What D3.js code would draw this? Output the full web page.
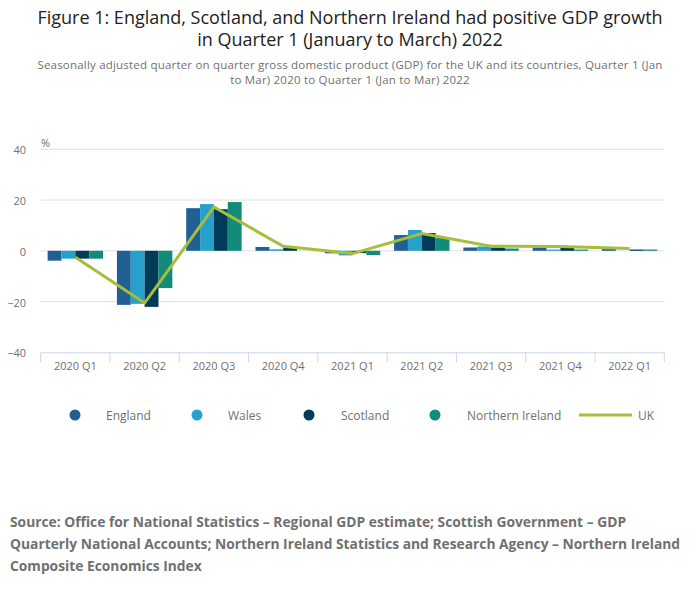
<!DOCTYPE html>
<html>
<head>
<meta charset="utf-8">
<script src="https://cdn.jsdelivr.net/npm/d3@7"></script>
<style>
  body { margin: 0; background: #fff; font-family: "Open Sans", sans-serif; }
  svg text { font-family: "Open Sans", sans-serif; }
</style>
</head>
<body>
<svg id="chart" width="700" height="599"></svg>
<script>
// chart data
const quarters = ["2020 Q1", "2020 Q2", "2020 Q3", "2020 Q4", "2021 Q1", "2021 Q2", "2021 Q3", "2021 Q4", "2022 Q1"];
const seriesNames = ["England", "Wales", "Scotland", "Northern Ireland"];
const england = [-3.9, -21.3, 16.8, 1.5, -1.0, 6.2, 1.3, 1.3, 0.8];
const wales = [-3.1, -20.9, 18.4, 0.6, -1.8, 8.2, 1.7, 0.5, 0.0];
const scotland = [-3.1, -22.1, 16.4, 1.3, -0.9, 7.0, 1.3, 1.1, 0.5];
const northernIreland = [-3.1, -14.7, 19.2, 0.0, -1.7, 5.0, 0.9, 0.5, 0.5];
const uk = [-2.5, -20.6, 17.3, 1.8, -1.1, 6.8, 1.8, 1.7, 0.9];
const yTicks = [-40, -20, 0, 20, 40];

const colors = {
  "England": "#206095",
  "Wales": "#27a0cc",
  "Scotland": "#003c57",
  "Northern Ireland": "#118c7b",
  "UK": "#a8bd3a"
};

const values = [england, wales, scotland, northernIreland];

const svg = d3.select("#chart");
const plot = { left: 40.7, right: 664.3, top: 149.3, bottom: 352.3 };

// titles
const title = svg.append("text")
  .attr("text-anchor", "middle")
  .attr("fill", "#222")
  .style("font-size", "18px");
title.append("tspan").attr("x", 350).attr("y", 24)
  .text("Figure 1: England, Scotland, and Northern Ireland had positive GDP growth");
title.append("tspan").attr("x", 350).attr("y", 46)
  .text("in Quarter 1 (January to March) 2022");

const subtitle = svg.append("text")
  .attr("text-anchor", "middle")
  .attr("fill", "#707070")
  .style("font-size", "11.5px")
  .style("letter-spacing", "0.2px");
subtitle.append("tspan").attr("x", 350).attr("y", 68.5)
  .text("Seasonally adjusted quarter on quarter gross domestic product (GDP) for the UK and its countries, Quarter 1 (Jan");
subtitle.append("tspan").attr("x", 350).attr("y", 83.5)
  .text("to Mar) 2020 to Quarter 1 (Jan to Mar) 2022");

// scales
const x = d3.scaleBand().domain(quarters).range([plot.left, plot.right]);
const x1 = d3.scaleBand().domain(seriesNames)
  .range([x.bandwidth() * 0.1, x.bandwidth() * 0.9]);
const y = d3.scaleLinear().domain([-40, 40]).range([plot.bottom, plot.top]);

// grid lines
svg.append("g")
  .selectAll("line")
  .data(yTicks.filter(d => d !== -40))
  .join("line")
  .attr("x1", plot.left)
  .attr("x2", plot.right)
  .attr("y1", d => y(d))
  .attr("y2", d => y(d))
  .attr("stroke", "#e0e0e0")
  .attr("stroke-width", 1);

// y axis labels
const yAxis = svg.append("g")
  .attr("transform", "translate(" + 26 + ",1)")
  .call(d3.axisLeft(y).tickValues(yTicks).tickSize(0).tickPadding(0));
yAxis.select(".domain").remove();
yAxis.selectAll("text")
  .attr("fill", "#707070")
  .style("font-size", "11px");

svg.append("text")
  .attr("x", 41)
  .attr("y", 147)
  .attr("fill", "#707070")
  .style("font-size", "11px")
  .text("%");

// bars
const groups = svg.append("g")
  .selectAll("g")
  .data(quarters)
  .join("g")
  .attr("transform", d => "translate(" + x(d) + ",0)");

groups.selectAll("rect")
  .data((q, i) => seriesNames.map((s, j) => ({ series: s, value: values[j][i] })))
  .join("rect")
  .attr("x", d => x1(d.series))
  .attr("width", x1.bandwidth())
  .attr("y", d => y(Math.max(0, d.value)))
  .attr("height", d => Math.abs(y(d.value) - y(0)))
  .attr("fill", d => colors[d.series]);

// x axis
const xAxis = svg.append("g")
  .attr("transform", "translate(0," + plot.bottom + ")")
  .call(d3.axisBottom(x).tickSize(0).tickPadding(10));
xAxis.select(".domain").attr("stroke", "#ccd6eb");
xAxis.selectAll("text")
  .attr("fill", "#707070")
  .style("font-size", "11px");

svg.append("g")
  .selectAll("line")
  .data(quarters.map(q => x(q)).concat([plot.right]))
  .join("line")
  .attr("x1", d => d)
  .attr("x2", d => d)
  .attr("y1", plot.bottom)
  .attr("y2", plot.bottom + 10)
  .attr("stroke", "#ccd6eb");

// UK line
const line = d3.line()
  .x((d, i) => x(quarters[i]) + x.bandwidth() / 2)
  .y(d => y(d));

svg.append("path")
  .datum(uk)
  .attr("d", line)
  .attr("fill", "none")
  .attr("stroke", colors["UK"])
  .attr("stroke-width", 3);

// legend
const legendItems = [
  { name: "England", cx: 75, tx: 106 },
  { name: "Wales", cx: 197, tx: 228 },
  { name: "Scotland", cx: 309, tx: 341 },
  { name: "Northern Ireland", cx: 435, tx: 467 }
];
const legend = svg.append("g");
legendItems.forEach(function (d) {
  legend.append("circle")
    .attr("cx", d.cx)
    .attr("cy", 415)
    .attr("r", 5.5)
    .attr("fill", colors[d.name]);
  legend.append("text")
    .attr("x", d.tx)
    .attr("y", 420)
    .attr("fill", "#707070")
    .style("font-size", "12px")
    .text(d.name);
});
legend.append("line")
  .attr("x1", 579).attr("x2", 632)
  .attr("y1", 415).attr("y2", 415)
  .attr("stroke", colors["UK"])
  .attr("stroke-width", 3);
legend.append("text")
  .attr("x", 638)
  .attr("y", 420)
  .attr("fill", "#707070")
  .style("font-size", "12px")
  .text("UK");

// source
const source = svg.append("text")
  .attr("fill", "#707070")
  .style("font-size", "13.8px")
  .style("font-weight", "bold");
[
  "Source: Office for National Statistics – Regional GDP estimate; Scottish Government – GDP",
  "Quarterly National Accounts; Northern Ireland Statistics and Research Agency – Northern Ireland",
  "Composite Economics Index"
].forEach(function (t, i) {
  source.append("tspan").attr("x", 10).attr("y", 527 + i * 22).text(t);
});
</script>
</body>
</html>
